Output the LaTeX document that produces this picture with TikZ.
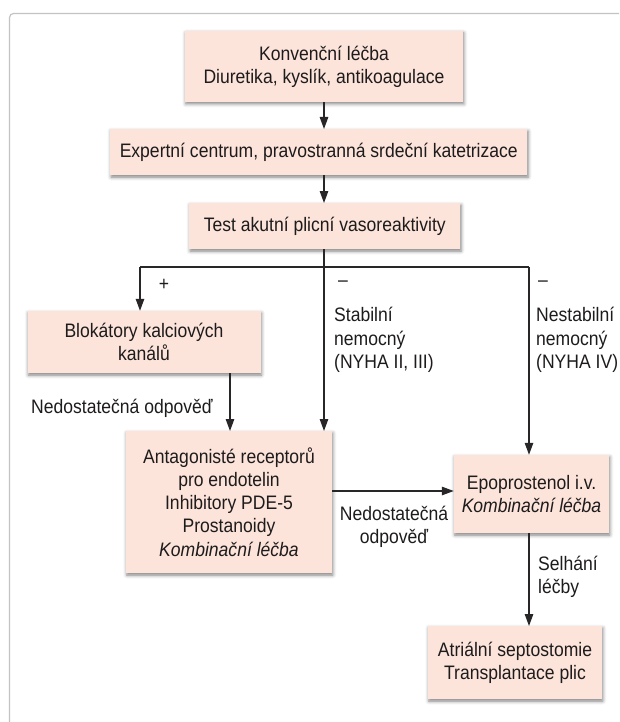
\documentclass[tikz,border=0pt]{standalone}
\usepackage{fontspec}
\setmainfont{Liberation Sans}[FakeStretch=0.9]
\usetikzlibrary{arrows.meta,shadows.blur}
\definecolor{boxfill}{RGB}{252,228,218}
\definecolor{linecol}{RGB}{40,38,38}
\definecolor{textcol}{RGB}{30,27,28}
\definecolor{framecol}{RGB}{195,195,195}
\tikzset{
  box/.style={fill=boxfill, inner sep=0pt, align=center, text=textcol,
    blur shadow={shadow xshift=0.8pt, shadow yshift=-2pt, shadow blur radius=3.5pt, shadow opacity=50}},
  conn/.style={draw=linecol, line width=1.2pt},
  arr/.style={conn, -{Triangle[length=12pt,width=8.5pt]}},
  lbl/.style={inner sep=0pt, align=left, anchor=west, text=textcol},
  clbl/.style={inner sep=0pt, align=center, text=textcol}
}
\begin{document}
\begin{tikzpicture}[x=1pt,y=-1pt,font=\fontsize{19.5}{23.2}\selectfont]
\useasboundingbox (0,0) rectangle (619,722);
\clip (0,0) rectangle (619,722);
\draw[framecol, line width=1.2pt, rounded corners=4pt] (9.5,760) -- (9.5,13.5) -- (660,13.5);

\node[box, minimum width=278pt, minimum height=71pt] (b1) at (324,66.5)
  {Konvenční léčba\\Diuretika, kyslík, antikoagulace};
\node[box, minimum width=417pt, minimum height=46pt] (b2) at (318.75,152)
  {Expertní centrum, pravostranná srdeční katetrizace};
\node[box, minimum width=271pt, minimum height=46pt] (b3) at (324.75,226)
  {Test akutní plicní vasoreaktivity};
\node[box, minimum width=233pt, minimum height=62pt] (b4) at (144,342)
  {Blokátory kalciových\\kanálů};
\node[box, minimum width=206pt, minimum height=142pt] (b5) at (229,502)
  {Antagonisté receptorů\\pro endotelin\\Inhibitory PDE-5\\Prostanoidy\\\textit{Kombinační léčba}};
\node[box, minimum width=155pt, minimum height=78pt] (b6) at (531.5,494)
  {Epoprostenol i.v.\\\textit{Kombinační léčba}};
\node[box, minimum width=174pt, minimum height=73pt] (b7) at (515,662.5)
  {Atriální septostomie\\Transplantace plic};

\coordinate (j) at (324,267);
\coordinate (jl) at (140,267);
\coordinate (jr) at (529,267);

\draw[arr] (324,102) -- (324,129);
\draw[arr] (324,175) -- (324,203);
\draw[conn] (jl) -- (jr);
\draw[arr] (jl) -- (jl |- b4.north);
\draw[arr] (324,249) -- (324,431);
\draw[arr] (jr) -- (jr |- b6.north);
\draw[arr] (230,373) -- (230,431);
\draw[arr] (b5.east |- 0,491) -- (b6.west |- 0,491);
\draw[arr] (529,533) -- (529,626);

\node[clbl] (plus) at (164,285) {+};
\node[clbl] (m1) at (343,284) {–};
\node[clbl] (m2) at (543,284) {–};
\node[lbl] (stab) at (334,340) {Stabilní\\nemocný\\(NYHA II, III)};
\node[lbl] (nestab) at (536,340) {Nestabilní\\nemocný\\(NYHA IV)};
\node[lbl] (ned1) at (31,408) {Nedostatečná odpověď};
\node[clbl] (ned2) at (394,527) {Nedostatečná\\odpověď};
\node[lbl] (selh) at (538,577) {Selhání\\léčby};
\end{tikzpicture}
\end{document}
